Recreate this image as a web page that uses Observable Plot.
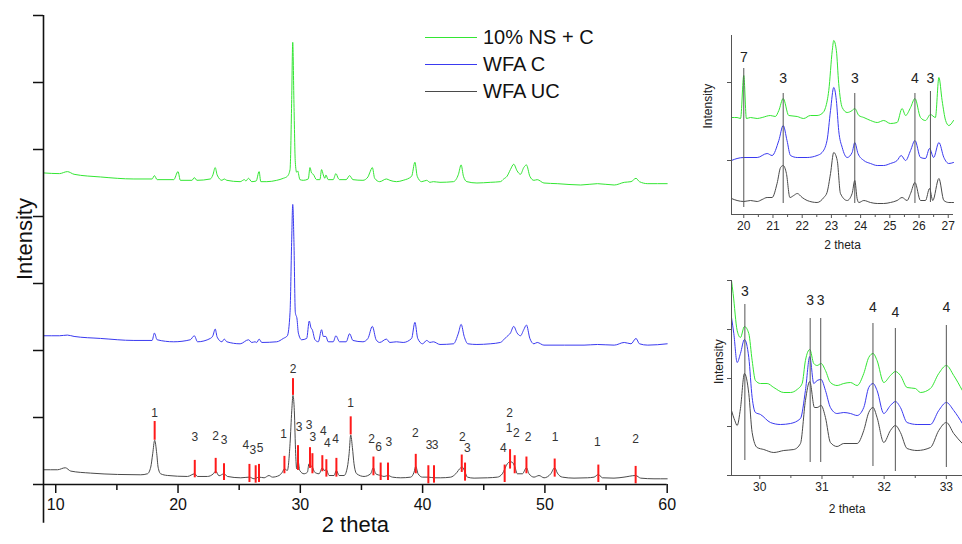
<!DOCTYPE html>
<html><head><meta charset="utf-8">
<script src="https://cdn.jsdelivr.net/npm/d3@7"></script>
<script src="https://cdn.jsdelivr.net/npm/@observablehq/plot@0.6"></script>
<style>
body{margin:0;background:#fff;font-family:"Liberation Sans",Arial,sans-serif;}
#wrap{position:relative;width:962px;height:544px;overflow:hidden;background:#fff}
.p{position:absolute}
#legend{position:absolute;left:425px;top:23.5px;font-size:20px;color:#111;line-height:1}
.row{display:flex;align-items:center;height:27.2px;white-space:nowrap}
.sw{display:inline-block;width:52px;height:0;border-top:1.3px solid;margin-right:6px}
</style></head><body><div id="wrap"></div>
<script>
// ---------- series names & colours ----------
const seriesNames = ["10% NS + C", "WFA C", "WFA UC"];
const seriesColors = ["#33e633", "#3a3af0", "#4a4a4a"];

// ---------- main pattern (2θ, intensity a.u.) ----------
const mainGreen = [[9.05,4.65],[10.3,4.64],[10.95,4.67],[11.5,4.63],[13.67,4.59],[16.39,4.56],[17.88,4.56],[18.07,4.61],[18.29,4.55],[19.65,4.55],[20.0,4.67],[20.19,4.54],[21.14,4.54],[21.33,4.58],[21.55,4.54],[22.64,4.56],[22.85,4.62],[23.04,4.73],[23.2,4.62],[23.59,4.54],[23.78,4.56],[23.99,4.54],[25.08,4.52],[25.43,4.55],[25.55,4.53],[25.76,4.57],[26.03,4.52],[26.39,4.53],[26.63,4.67],[26.77,4.52],[27.26,4.52],[28.07,4.54],[28.61,4.57],[28.94,4.60],[29.16,4.70],[29.29,5.69],[29.38,6.60],[29.48,5.69],[29.59,4.81],[29.70,4.66],[29.78,4.68],[29.97,4.55],[30.24,4.54],[30.65,4.56],[30.79,4.73],[30.92,4.65],[31.06,4.63],[31.33,4.55],[31.60,4.55],[31.74,4.70],[31.88,4.62],[32.01,4.57],[32.09,4.62],[32.28,4.55],[32.69,4.55],[32.91,4.64],[33.10,4.57],[33.21,4.55],[33.75,4.55],[34.03,4.61],[34.30,4.55],[35.12,4.54],[35.53,4.59],[35.67,4.65],[35.89,4.73],[36.08,4.57],[36.49,4.52],[37.04,4.56],[37.32,4.54],[37.86,4.52],[38.41,4.54],[39.10,4.60],[39.37,4.81],[39.56,4.60],[39.92,4.52],[40.33,4.54],[40.60,4.51],[40.88,4.52],[41.42,4.51],[42.52,4.52],[42.93,4.63],[43.15,4.77],[43.34,4.60],[43.62,4.52],[44.44,4.50],[45.53,4.51],[46.36,4.52],[46.63,4.56],[46.90,4.60],[47.18,4.70],[47.45,4.78],[47.73,4.68],[48.00,4.63],[48.27,4.73],[48.49,4.77],[48.77,4.60],[49.10,4.54],[49.37,4.55],[49.92,4.50],[51.01,4.49],[52.93,4.47],[54.30,4.49],[55.67,4.47],[56.49,4.51],[57.04,4.52],[57.45,4.57],[57.73,4.52],[58.41,4.49],[60.0,4.49]];
const mainBlue = [[9.05,2.22],[10.3,2.22],[10.95,2.23],[11.5,2.21],[13.67,2.18],[16.39,2.15],[17.88,2.15],[18.07,2.26],[18.29,2.16],[19.65,2.13],[21.0,2.16],[21.33,2.22],[21.6,2.13],[22.64,2.18],[22.85,2.22],[23.04,2.32],[23.2,2.2],[23.59,2.13],[23.78,2.17],[23.99,2.13],[25.08,2.10],[25.76,2.16],[26.03,2.12],[26.30,2.13],[26.44,2.12],[26.63,2.17],[26.85,2.12],[28.07,2.13],[28.61,2.18],[28.94,2.22],[29.16,2.57],[29.29,3.61],[29.38,4.18],[29.48,3.61],[29.59,2.57],[29.73,2.47],[29.84,2.26],[30.11,2.16],[30.52,2.18],[30.73,2.44],[30.87,2.34],[30.98,2.31],[31.20,2.16],[31.47,2.13],[31.74,2.31],[31.88,2.21],[32.09,2.21],[32.28,2.13],[32.69,2.13],[32.91,2.22],[33.21,2.13],[33.75,2.13],[34.03,2.25],[34.30,2.15],[35.12,2.13],[35.53,2.18],[35.89,2.36],[36.2,2.16],[36.49,2.12],[37.04,2.17],[37.32,2.12],[37.86,2.13],[38.41,2.12],[39.10,2.18],[39.37,2.42],[39.6,2.18],[40.0,2.10],[40.33,2.15],[40.60,2.12],[40.88,2.13],[41.42,2.09],[42.52,2.10],[42.93,2.26],[43.15,2.39],[43.4,2.21],[43.7,2.10],[44.44,2.09],[45.53,2.10],[46.36,2.12],[46.63,2.16],[46.90,2.21],[47.18,2.26],[47.45,2.36],[47.73,2.26],[48.00,2.22],[48.27,2.31],[48.49,2.38],[48.77,2.18],[49.10,2.10],[49.37,2.12],[49.92,2.08],[51.6,2.08],[53.2,2.08],[54.30,2.09],[55.67,2.08],[56.49,2.12],[57.04,2.10],[57.45,2.18],[57.73,2.10],[58.41,2.08],[60.0,2.10]];
const mainBlack = [[9.0,0.22],[10.14,0.22],[10.78,0.25],[11.23,0.20],[12.86,0.17],[15.04,0.15],[16.95,0.145],[17.50,0.16],[17.77,0.26],[17.93,0.46],[18.09,0.66],[18.26,0.46],[18.37,0.26],[18.58,0.16],[19.13,0.135],[20.77,0.12],[21.37,0.16],[21.58,0.12],[22.40,0.12],[22.89,0.16],[23.08,0.20],[23.35,0.13],[23.76,0.16],[24.04,0.12],[25.13,0.10],[25.84,0.11],[26.22,0.085],[26.63,0.11],[27.04,0.10],[27.44,0.134],[27.72,0.11],[28.26,0.134],[28.53,0.184],[28.70,0.234],[28.94,0.21],[29.16,0.61],[29.30,1.10],[29.40,1.33],[29.51,1.10],[29.62,0.46],[29.70,0.234],[29.81,0.36],[29.95,0.21],[30.30,0.16],[30.58,0.184],[30.71,0.31],[30.85,0.28],[30.99,0.26],[31.17,0.184],[31.53,0.16],[31.80,0.25],[31.94,0.21],[32.13,0.22],[32.35,0.134],[32.76,0.134],[32.95,0.21],[33.17,0.134],[33.58,0.134],[33.85,0.26],[33.99,0.46],[34.12,0.74],[34.26,0.55],[34.39,0.31],[34.61,0.16],[35.21,0.12],[35.75,0.16],[35.97,0.25],[36.17,0.16],[36.57,0.134],[36.85,0.12],[37.17,0.134],[37.53,0.11],[38.21,0.10],[39.03,0.11],[39.30,0.184],[39.44,0.27],[39.63,0.16],[39.98,0.11],[40.47,0.11],[40.94,0.10],[41.48,0.10],[42.30,0.11],[42.71,0.16],[43.12,0.25],[43.25,0.26],[43.47,0.184],[43.66,0.11],[44.21,0.095],[45.30,0.10],[46.12,0.11],[46.52,0.16],[46.93,0.31],[47.15,0.34],[47.34,0.33],[47.53,0.27],[47.75,0.16],[48.16,0.16],[48.49,0.25],[48.70,0.16],[49.11,0.11],[49.52,0.134],[49.93,0.10],[50.48,0.16],[50.80,0.25],[51.02,0.17],[51.43,0.11],[52.38,0.095],[53.47,0.10],[54.02,0.11],[54.37,0.15],[54.70,0.10],[55.65,0.095],[56.47,0.11],[57.42,0.134],[57.83,0.095],[58.92,0.085],[60.0,0.085]];

// reference peak sticks: [2θ, top, bottom]
const mainSticks = [[18.09,0.94,0.66],[21.37,0.36,0.10],[23.08,0.39,0.16],[23.76,0.31,0.06],[25.84,0.30,0.03],[26.35,0.28,0.02],[26.62,0.30,0.03],[28.70,0.42,0.16],[29.40,1.58,1.33],[29.81,0.58,0.21],[30.79,0.55,0.24],[30.99,0.46,0.16],[31.80,0.43,0.19],[32.13,0.37,0.11],[32.95,0.39,0.11],[34.12,1.01,0.74],[35.98,0.41,0.13],[36.57,0.32,0.06],[37.17,0.32,0.06],[39.44,0.45,0.16],[40.47,0.28,0.01],[40.93,0.28,0.02],[43.20,0.44,0.18],[43.47,0.32,0.05],[46.71,0.29,0.03],[47.15,0.52,0.23],[47.53,0.43,0.16],[48.49,0.41,0.16],[50.80,0.38,0.11],[54.37,0.29,0.03],[57.42,0.27,0.01]];
// phase labels: [2θ, height, label]
const mainLabels = [[18.09,1.06,"1"],[21.37,0.70,"3"],[23.08,0.72,"2"],[23.76,0.66,"3"],[25.54,0.58,"4"],[26.11,0.52,"3"],[26.71,0.54,"5"],[28.64,0.75,"1"],[29.40,1.72,"2"],[29.90,0.85,"3"],[30.71,0.88,"3"],[31.02,0.70,"3"],[31.88,0.79,"4"],[32.22,0.61,"4"],[32.89,0.67,"4"],[34.12,1.22,"1"],[35.82,0.67,"2"],[36.41,0.55,"6"],[37.23,0.63,"3"],[39.41,0.76,"2"],[40.53,0.58,"3"],[41.02,0.58,"3"],[43.25,0.70,"2"],[43.66,0.54,"3"],[46.61,0.54,"4"],[47.12,1.06,"2"],[47.07,0.84,"1"],[47.67,0.77,"2"],[48.62,0.71,"2"],[50.83,0.70,"1"],[54.29,0.63,"1"],[57.42,0.68,"2"]];
const mainXMajor = [10, 20, 30, 40, 50, 60];
const mainXMinor = [15, 25, 35, 45, 55];
const mainYTicks = [0, 1, 2, 3, 4, 5, 6, 7];

// ---------- inset 1 (19.6–27.2°) ----------
const topGreen = [[19.60,97],[19.77,97],[19.89,96],[20.0,139],[20.09,96],[20.23,97],[20.46,96],[20.63,97],[20.91,99],[21.08,98],[21.2,104],[21.35,116],[21.54,99],[21.83,98],[22.05,96],[22.28,99],[22.51,99],[22.68,101],[22.8,107],[22.91,124],[23.03,164],[23.08,174],[23.17,164],[23.25,131],[23.37,107],[23.54,102],[23.71,104],[23.80,106],[23.94,99],[24.11,97],[24.34,94],[24.57,92],[24.79,94],[25.02,91],[25.25,92],[25.42,106],[25.54,99],[25.71,107],[25.86,116],[26.05,97],[26.22,94],[26.39,100],[26.56,97],[26.68,137],[26.79,114],[26.91,94],[27.02,89],[27.18,94]];
const topBlue = [[19.58,54],[19.77,56],[20.0,57],[20.46,57],[20.80,61],[20.97,59],[21.2,74],[21.35,89],[21.48,74],[21.60,59],[21.83,57],[22.17,57],[22.51,59],[22.68,62],[22.85,74],[22.97,104],[23.08,127],[23.17,114],[23.25,84],[23.37,67],[23.54,57],[23.71,62],[23.80,72],[23.91,61],[24.11,54],[24.34,51],[24.57,49],[24.79,49],[25.02,51],[25.25,54],[25.39,59],[25.54,54],[25.71,64],[25.86,74],[26.05,57],[26.22,56],[26.36,66],[26.50,57],[26.68,72],[26.85,57],[27.02,51],[27.18,52]];
const topBlack = [[19.58,16],[19.77,14],[20.0,13],[20.23,14],[20.46,13],[20.63,15],[20.80,17],[20.97,17],[21.14,31],[21.26,47],[21.35,49],[21.46,41],[21.58,17],[21.71,19],[21.83,21],[22.00,17],[22.17,14],[22.51,12],[22.74,17],[22.85,22],[22.97,41],[23.08,62],[23.20,54],[23.31,21],[23.54,14],[23.71,21],[23.80,34],[23.88,16],[23.94,12],[24.11,14],[24.34,12],[24.57,11],[24.79,11],[25.02,12],[25.25,14],[25.42,17],[25.59,14],[25.71,21],[25.86,32],[26.05,14],[26.22,14],[26.36,26],[26.47,14],[26.68,36],[26.85,14],[27.02,12],[27.18,12]];
// marker lines: [2θ, bottom, top, label, labelHeight]
const topMarkers = [[20.0,7,146,"7",157],[21.35,11,121,"3",136],[23.8,11,121,"3",136],[25.86,11,121,"4",136],[26.39,12,123,"3",136]];
const topXMajor = [20, 21, 22, 23, 24, 25, 26, 27];
const topXMinor = [20.5, 21.5, 22.5, 23.5, 24.5, 25.5, 26.5];
const topYTicks = [54, 132];

// ---------- inset 2 (29.5–33.3°) ----------
const botGreen = [[29.545,195],[29.571,182],[29.636,145],[29.689,138],[29.753,149],[29.823,142],[29.877,115],[29.930,95],[30.011,92],[30.118,92],[30.225,88],[30.386,83],[30.493,83],[30.600,86],[30.681,92],[30.734,115],[30.804,126],[30.868,112],[30.922,110],[30.986,112],[31.056,105],[31.136,93],[31.243,90],[31.350,92],[31.458,93],[31.565,90],[31.672,102],[31.752,118],[31.822,122],[31.886,115],[31.994,93],[32.101,100],[32.181,104],[32.262,100],[32.369,88],[32.503,87],[32.583,83],[32.744,87],[32.878,102],[33.001,110],[33.119,100],[33.258,85]];
const botBlue = [[29.545,158],[29.582,142],[29.636,113],[29.689,122],[29.753,136],[29.823,118],[29.877,78],[29.930,63],[30.011,61],[30.171,53],[30.332,51],[30.493,52],[30.654,57],[30.734,85],[30.804,119],[30.868,92],[30.922,95],[30.986,96],[31.056,85],[31.136,68],[31.243,62],[31.350,63],[31.458,62],[31.565,60],[31.672,68],[31.752,88],[31.822,92],[31.886,85],[31.994,62],[32.101,70],[32.181,74],[32.262,68],[32.369,53],[32.530,51],[32.744,51],[32.878,65],[33.001,73],[33.119,65],[33.258,52]];
const botBlack = [[29.545,65],[29.598,55],[29.636,50],[29.689,67],[29.753,102],[29.823,82],[29.877,43],[29.957,28],[30.064,26],[30.225,23],[30.386,25],[30.547,26],[30.654,32],[30.734,75],[30.804,94],[30.879,68],[30.922,68],[30.986,70],[31.056,58],[31.136,33],[31.243,29],[31.350,32],[31.565,32],[31.672,45],[31.752,63],[31.822,68],[31.886,58],[31.994,33],[32.101,45],[32.181,50],[32.262,43],[32.369,27],[32.530,25],[32.744,28],[32.878,45],[33.001,53],[33.119,42],[33.258,32]];
const botMarkers = [[29.76,15,171,"3",184],[30.81,13,157,"3",175],[30.98,13,157,"3",175],[31.82,9,152,"4",168],[32.18,4,147,"4",163],[33.00,8,150,"4",168]];
const botXMajor = [30, 31, 32, 33];
const botXMinor = [30.5, 31.5, 32.5];
const botYTicks = [0, 49, 97, 146, 195];

// ---------- build ----------
const font = "Liberation Sans, Arial, Helvetica, sans-serif";
const wrap = document.getElementById("wrap");
function place(svg, left, top) {
  const d = document.createElement("div");
  d.className = "p"; d.style.left = left + "px"; d.style.top = top + "px";
  d.appendChild(svg); wrap.appendChild(d);
}
const lineOf = (arr, color) => Plot.line(arr, {x: d => d[0], y: d => d[1], stroke: color, strokeWidth: 1, curve: "monotone-x"});
const blank = () => "";

// main chart
const mainXDomain = [9, 60], mainYDomain = [0, 7], mainYAxisLow = -0.58;
const main = Plot.plot({
  width: 680, height: 544,
  marginLeft: 43, marginRight: 13.3, marginTop: 15, marginBottom: 60,
  x: {domain: mainXDomain},
  y: {domain: mainYDomain},
  style: {fontFamily: font, color: "#111", background: "transparent", overflow: "visible"},
  marks: [
    lineOf(mainGreen, seriesColors[0]),
    lineOf(mainBlue, seriesColors[1]),
    lineOf(mainBlack, seriesColors[2]),
    Plot.ruleX(mainSticks, {x: d => d[0], y1: d => d[2], y2: d => d[1], stroke: "#ff1a1a", strokeWidth: 2}),
    Plot.text(mainLabels, {x: d => d[0], y: d => d[1], text: d => d[2], fontSize: 12, fill: "#333"}),
    Plot.ruleX([mainXDomain[0]], {y1: mainYAxisLow, y2: mainYDomain[1], stroke: "#111", strokeWidth: 1.6}),
    Plot.ruleY([mainYDomain[0]], {stroke: "#111", strokeWidth: 1.6}),
    Plot.axisY({ticks: mainYTicks, tickSize: 10, tickFormat: blank, label: null, strokeWidth: 1.5}),
    Plot.axisX({ticks: mainXMajor, tickSize: 9, tickPadding: 5, fontSize: 16, label: null, tickFormat: d => d, strokeWidth: 1.5}),
    Plot.axisX({ticks: mainXMinor, tickSize: 6, tickFormat: blank, label: null, strokeWidth: 1.5}),
    Plot.text(["Intensity"], {frameAnchor: "left", rotate: -90, dx: -19, dy: 30, fontSize: 22, fill: "#111"}),
    Plot.text(["2 theta"], {frameAnchor: "bottom", dy: 47, fontSize: 22, fill: "#111"})
  ]
});
place(main, 0, 0);

function inset(cfg) {
  return Plot.plot({
    width: 272, height: cfg.height,
    marginLeft: 41, marginRight: cfg.mr, marginTop: cfg.mt, marginBottom: cfg.mb,
    x: {domain: cfg.xd}, y: {domain: cfg.yd},
    style: {fontFamily: font, color: "#222", background: "transparent", overflow: "visible"},
    marks: [
      lineOf(cfg.g, seriesColors[0]),
      lineOf(cfg.b, seriesColors[1]),
      lineOf(cfg.k, seriesColors[2]),
      Plot.ruleX(cfg.m, {x: d => d[0], y1: d => d[1], y2: d => d[2], stroke: "#555", strokeWidth: 1}),
      Plot.text(cfg.m, {x: d => d[0], y: d => d[4], text: d => d[3], fontSize: 14, fill: "#222"}),
      Plot.ruleX([cfg.xd[0]], {stroke: "#555", strokeWidth: 1}),
      Plot.ruleY([cfg.yd[0]], {stroke: "#555", strokeWidth: 1}),
      Plot.axisY({ticks: cfg.yt, tickSize: 4, tickFormat: blank, label: null, stroke: "#555"}),
      Plot.axisX({ticks: cfg.xM, tickSize: 4, tickPadding: 3, fontSize: 12, label: null, tickFormat: d => d, stroke: "#555"}),
      Plot.axisX({ticks: cfg.xm, tickSize: 3, tickFormat: blank, label: null, stroke: "#555"}),
      Plot.text(["Intensity"], {frameAnchor: "left", rotate: -90, dx: cfg.ix, dy: cfg.iy, fontSize: 12, fill: "#222"}),
      Plot.text(["2 theta"], {frameAnchor: "bottom", dy: cfg.ty, fontSize: 12, fill: "#222"})
    ]
  });
}
place(inset({height: 260, mr: 9, mt: 35, mb: 46, xd: [19.58, 27.18], yd: [0, 179],
  g: topGreen, b: topBlue, k: topBlack, m: topMarkers, yt: topYTicks, xM: topXMajor, xm: topXMinor,
  ix: -23, iy: 3.5, ty: 34}), 690, 0);
place(inset({height: 284, mr: 0, mt: 20, mb: 69, xd: [29.545, 33.26], yd: [0, 195],
  g: botGreen, b: botBlue, k: botBlack, m: botMarkers, yt: botYTicks, xM: botXMajor, xm: botXMinor,
  ix: -12, iy: 6, ty: 37}), 690, 260);

// legend
const leg = document.createElement("div");
leg.id = "legend";
seriesNames.forEach((n, i) => {
  const r = document.createElement("div"); r.className = "row";
  const s = document.createElement("span"); s.className = "sw"; s.style.borderColor = seriesColors[i];
  const t = document.createElement("span"); t.textContent = n;
  r.appendChild(s); r.appendChild(t); leg.appendChild(r);
});
wrap.appendChild(leg);
</script></body></html>
